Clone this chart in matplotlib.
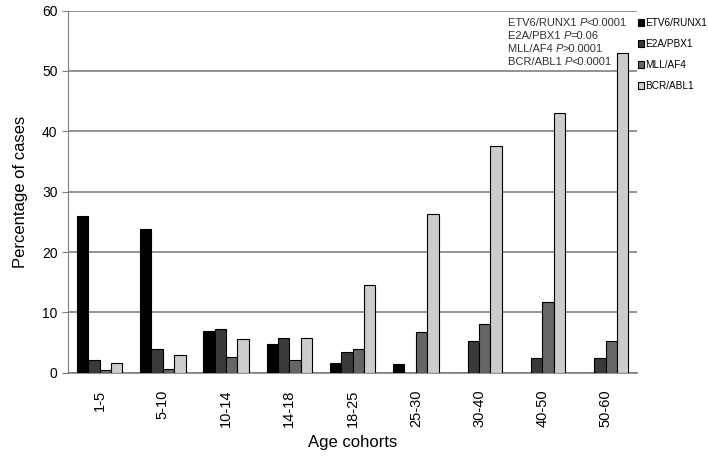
import numpy as np
import matplotlib.pyplot as plt

# Dữ liệu
cohorts = ['1-5', '5-10', '10-14', '14-18', '18-25', '25-30', '30-40', '40-50', '50-60']
etv6_runx1 = [26.0, 23.8, 7.0, 4.8, 1.6, 1.4, 0, 0, 0]
e2a_pbx1 = [2.2, 4.0, 7.2, 5.8, 3.4, 0, 5.2, 2.4, 2.4]
mll_af4 = [0.5, 0.6, 2.7, 2.1, 3.9, 6.7, 8.1, 11.8, 5.3]
bcr_abl1 = [1.7, 2.9, 5.6, 5.8, 14.5, 26.3, 37.5, 43.0, 52.9]

series = ['ETV6/RUNX1', 'E2A/PBX1', 'MLL/AF4', 'BCR/ABL1']
colors = ['#000000', '#3a3a3a', '#666666', '#cccccc']
pvals = ['P', 'P', 'P', 'P']
prest = ['<0.0001', '=0.06', '>0.0001', '<0.0001']

plt.rcParams['font.family'] = ['Liberation Sans', 'DejaVu Sans']

fig = plt.figure(figsize=(7.08, 4.58), dpi=100)
ax = fig.add_axes([0.096, 0.186, 0.804, 0.791])

x = np.arange(len(cohorts))
w = 0.18
for i, (vals, name, c) in enumerate(zip([etv6_runx1, e2a_pbx1, mll_af4, bcr_abl1], series, colors)):
    ax.bar(x + (i - 1.5) * w, vals, w, color=c, edgecolor='black', linewidth=0.8, label=name, zorder=3)

ax.set_xlim(-0.5, len(cohorts) - 0.5)
ax.set_ylim(0, 60)
ax.set_yticks(range(0, 61, 10))
ax.yaxis.grid(True, color='#808080', linewidth=1.2, zorder=0)
ax.set_xticks(x)
ax.set_xticklabels(cohorts, rotation=90, fontsize=10.5)
ax.tick_params(axis='x', length=0, pad=12)
ax.tick_params(axis='y', labelsize=10, color='#808080', length=4)
for s in ['top', 'right']:
    ax.spines[s].set_visible(False)
ax.spines['left'].set_color('#808080')
ax.spines['bottom'].set_color('#808080')
ax.spines['bottom'].set_linewidth(1.2)

ax.set_xlabel('Age cohorts', fontsize=12, labelpad=6)
ax.set_ylabel('Percentage of cases', fontsize=12, labelpad=10)

# Ghi chú giá trị P
for k, name in enumerate(series):
    yy = 0.943 - k * 0.0285
    t = fig.text(0.717, yy, name + ' ', fontsize=8, color='#333333', va='baseline')
    t2 = ax.annotate(pvals[k], xy=(1, 0), xycoords=t, va='bottom', ha='left',
                     fontsize=8, color='#333333', style='italic')
    ax.annotate(prest[k], xy=(1, 0), xycoords=t2, va='bottom', ha='left',
                fontsize=8, color='#333333')

fig.legend(loc='upper left', bbox_to_anchor=(0.895, 0.97), frameon=False,
           fontsize=7.2, handlelength=0.6, handleheight=0.7, handletextpad=0.12,
           labelspacing=1.1, borderaxespad=0)

plt.savefig('out.png', dpi=100)
